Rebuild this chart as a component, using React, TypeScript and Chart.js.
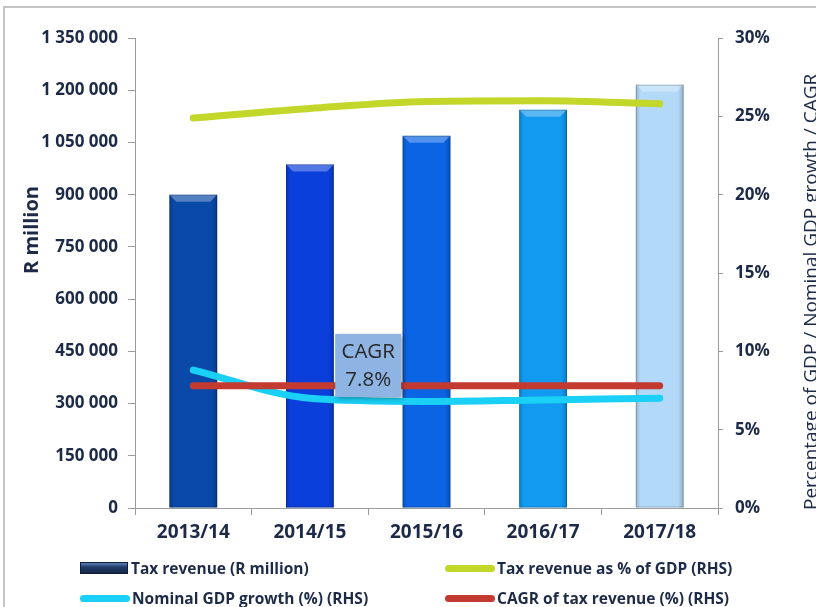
import React, { useEffect, useRef } from "react";
import { Chart, registerables } from "chart.js";

Chart.register(...registerables);

// ---------- data ----------
const categories = ["2013/14", "2014/15", "2015/16", "2016/17", "2017/18"];
const taxRevenue = [900000, 987000, 1069000, 1144000, 1216000];
const taxPctOfGdp = [24.9, 25.5, 25.95, 26.0, 25.8];
const nominalGdpGrowth = [8.8, 7.0, 6.8, 6.9, 7.0];
const cagrTaxRevenue = [7.8, 7.8, 7.8, 7.8, 7.8];
const leftAxisMax = 1350000;
const leftAxisStep = 150000;
const rightAxisMax = 30;
const rightAxisStep = 5;

const barColors = ["#0A49A8", "#0B3FDC", "#0A64E4", "#1299F0", "#B3D9F8"];
const GREEN = "#C3D62A";
const CYAN = "#1AD0F6";
const RED = "#C33A30";
const TEXT = "#1C2A48";
const AXIS = "#9C9C9C";
const FONT = "'Open Sans', 'Liberation Sans', sans-serif";

const fmt = (v: number) => String(v).replace(/\B(?=(\d{3})+(?!\d))/g, " ");

const decorPlugin = {
  id: "decor",
  beforeDraw(chart: any) {
    const { ctx, width, height } = chart;
    ctx.save();
    ctx.fillStyle = "#ffffff";
    ctx.fillRect(0, 0, width, height);
    ctx.strokeStyle = "#C4C4C4";
    ctx.lineWidth = 2;
    ctx.beginPath();
    ctx.moveTo(4, height);
    ctx.lineTo(4, 7);
    ctx.lineTo(width, 7);
    ctx.stroke();
    ctx.restore();
  },
  afterDatasetDraw(chart: any, args: any) {
    if (args.index !== 0) return;
    const { ctx } = chart;
    ctx.save();
    args.meta.data.forEach((bar: any) => {
      const { x, y, base, width } = bar.getProps(["x", "y", "base", "width"], true);
      const l = x - width / 2;
      const r = x + width / 2;
      const h = base - y;
      const g = ctx.createLinearGradient(l, 0, r, 0);
      g.addColorStop(0, "rgba(0,0,0,0.16)");
      g.addColorStop(0.1, "rgba(0,0,0,0)");
      g.addColorStop(0.88, "rgba(0,0,0,0)");
      g.addColorStop(1, "rgba(0,0,0,0.2)");
      ctx.fillStyle = g;
      ctx.fillRect(l, y, width, h);
      const b = 7;
      ctx.fillStyle = "rgba(255,255,255,0.3)";
      ctx.beginPath();
      ctx.moveTo(l, y);
      ctx.lineTo(r, y);
      ctx.lineTo(r - b, y + b);
      ctx.lineTo(l + b, y + b);
      ctx.closePath();
      ctx.fill();
      ctx.strokeStyle = "rgba(0,0,0,0.2)";
      ctx.lineWidth = 1;
      ctx.strokeRect(l + 0.5, y + 0.5, width - 1, h - 1);
    });
    ctx.restore();
  },
  afterDatasetsDraw(chart: any) {
    const { ctx } = chart;
    const xs = chart.scales.x;
    const ys = chart.scales.y1;
    // CAGR call-out
    const cx = xs.getPixelForValue(1.5);
    const cy = ys.getPixelForValue(9.1);
    const bw = 66;
    const bh = 63;
    ctx.save();
    ctx.shadowColor = "rgba(0,0,0,0.35)";
    ctx.shadowBlur = 5;
    ctx.shadowOffsetX = 2;
    ctx.shadowOffsetY = 2;
    ctx.fillStyle = "#8EB4E3";
    ctx.fillRect(cx - bw / 2, cy - bh / 2, bw, bh);
    ctx.restore();
    ctx.save();
    ctx.fillStyle = "#262626";
    ctx.font = `400 20.5px ${FONT}`;
    ctx.textAlign = "center";
    ctx.textBaseline = "middle";
    ctx.fillText("CAGR", cx, cy - 13);
    ctx.fillText(`${cagrTaxRevenue[0]}%`, cx, cy + 15);
    ctx.restore();
  },
  afterDraw(chart: any) {
    const { ctx } = chart;
    ctx.save();
    ctx.fillStyle = TEXT;
    ctx.textBaseline = "middle";
    // left title
    ctx.save();
    ctx.translate(32, 230);
    ctx.rotate(-Math.PI / 2);
    ctx.textAlign = "center";
    ctx.font = `700 20px ${FONT}`;
    ctx.fillText("R million", 0, 0);
    ctx.restore();
    // right title
    ctx.save();
    ctx.translate(812, 510);
    ctx.rotate(-Math.PI / 2);
    ctx.textAlign = "left";
    ctx.font = `400 19px ${FONT}`;
    ctx.fillText("Percentage of GDP / Nominal GDP growth / CAGR", 0, 0);
    ctx.restore();
    ctx.restore();
  },
};

const legendItems = [
  { label: "Tax revenue (R million)", kind: "bar", color: "#1F3864", left: 80, top: 561 },
  { label: "Tax revenue as % of GDP (RHS)", kind: "line", color: GREEN, left: 445, top: 561 },
  { label: "Nominal GDP growth (%) (RHS)", kind: "line", color: CYAN, left: 80, top: 591 },
  { label: "CAGR of tax revenue (%) (RHS)", kind: "line", color: RED, left: 445, top: 591 },
];

export default function App() {
  const canvasRef = useRef<HTMLCanvasElement | null>(null);

  useEffect(() => {
    if (!canvasRef.current) return;
    const tickFont = { family: FONT, size: 17, weight: "bold" as const };
    const chart = new Chart(canvasRef.current, {
      type: "bar",
      data: {
        labels: categories,
        datasets: [
          {
            type: "bar",
            label: "Tax revenue (R million)",
            data: taxRevenue,
            backgroundColor: barColors,
            yAxisID: "y",
            barPercentage: 0.82,
            categoryPercentage: 0.5,
            order: 10,
          },
          {
            type: "line",
            label: "Tax revenue as % of GDP (RHS)",
            data: taxPctOfGdp,
            borderColor: GREEN,
            borderWidth: 7,
            borderCapStyle: "round",
            pointRadius: 0,
            cubicInterpolationMode: "monotone",
            yAxisID: "y1",
            order: 1,
          },
          {
            type: "line",
            label: "Nominal GDP growth (%) (RHS)",
            data: nominalGdpGrowth,
            borderColor: CYAN,
            borderWidth: 7,
            borderCapStyle: "round",
            pointRadius: 0,
            cubicInterpolationMode: "monotone",
            yAxisID: "y1",
            order: 3,
          },
          {
            type: "line",
            label: "CAGR of tax revenue (%) (RHS)",
            data: cagrTaxRevenue,
            borderColor: RED,
            borderWidth: 7,
            borderCapStyle: "round",
            pointRadius: 0,
            yAxisID: "y1",
            order: 2,
          },
        ],
      },
      options: {
        animation: false,
        responsive: false,
        maintainAspectRatio: false,
        layout: { padding: { top: 38, left: 0, right: 0, bottom: 0 } },
        plugins: {
          legend: { display: false },
          tooltip: { enabled: false },
          title: { display: false },
        },
        scales: {
          x: {
            offset: true,
            grid: { display: true, drawOnChartArea: false, drawTicks: true, tickLength: 7, color: AXIS, offset: true },
            border: { display: true, color: AXIS },
            ticks: { color: TEXT, font: { family: FONT, size: 19, weight: "bold" }, padding: 6, maxRotation: 0 },
            afterFit: (s: any) => { s.height = 99; },
          },
          y: {
            position: "left",
            min: 0,
            max: leftAxisMax,
            grid: { display: true, drawOnChartArea: false, drawTicks: true, tickLength: 7, color: AXIS },
            border: { display: true, color: AXIS },
            ticks: { stepSize: leftAxisStep, color: TEXT, font: tickFont, padding: 10, callback: (v: any) => fmt(Number(v)) },
            afterFit: (s: any) => { s.width = 135; },
          },
          y1: {
            position: "right",
            min: 0,
            max: rightAxisMax,
            grid: { display: true, drawOnChartArea: false, drawTicks: true, tickLength: 5, color: AXIS },
            border: { display: true, color: AXIS },
            ticks: { stepSize: rightAxisStep, color: TEXT, font: tickFont, padding: 12, callback: (v: any) => `${v}%` },
            afterFit: (s: any) => { s.width = 98; },
          },
        },
      },
      plugins: [decorPlugin],
    } as any);
    return () => chart.destroy();
  }, []);

  return (
    <div style={{ position: "fixed", left: 0, top: 0, width: 816, height: 607, overflow: "hidden", background: "#fff" }}>
      <canvas ref={canvasRef} width={816} height={607} style={{ display: "block", width: 816, height: 607 }} />
      {legendItems.map((it) => (
        <div
          key={it.label}
          style={{
            position: "absolute",
            left: it.left,
            top: it.top,
            height: 14,
            display: "flex",
            alignItems: "center",
            fontFamily: FONT,
            fontWeight: 700,
            fontSize: 15.5,
            color: TEXT,
            whiteSpace: "nowrap",
          }}
        >
          {it.kind === "bar" ? (
            <span
              style={{
                display: "inline-block",
                width: 46,
                height: 10,
                marginRight: 3,
                background: "linear-gradient(180deg, #5A7DB5 0%, #1F3864 45%, #14284C 100%)",
                border: "1px solid #0E1C38",
              }}
            />
          ) : (
            <span
              style={{
                display: "inline-block",
                width: 50,
                height: 7,
                marginRight: 2,
                borderRadius: 4,
                background: it.color,
              }}
            />
          )}
          <span>{it.label}</span>
        </div>
      ))}
    </div>
  );
}
